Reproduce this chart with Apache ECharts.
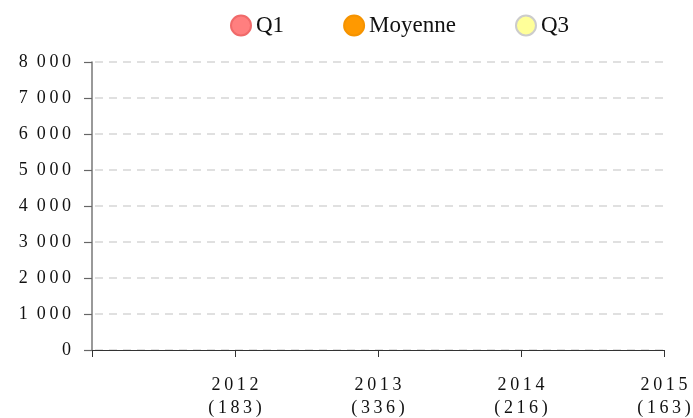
<!DOCTYPE html>
<html>
<head>
<meta charset="utf-8">
<script src="https://cdn.jsdelivr.net/npm/echarts@6/dist/echarts.min.js"></script>
<style>
  html, body { margin: 0; padding: 0; background: #fff; }
  #chart { width: 693px; height: 418px; }
</style>
</head>
<body>
<div id="chart"></div>
<script>
// années et nombre d'observations
const years = ['2012', '2013', '2014', '2015']
const counts = [183, 336, 216, 163]
// séries (vides dans la figure d'origine)
const q1Values = []
const meanValues = []
const q3Values = []
const yTicks = [0, 1000, 2000, 3000, 4000, 5000, 6000, 7000, 8000]

const FONT = "'Liberation Serif', 'DejaVu Serif', serif"

// espace fin entre les chiffres, comme sur l'original
const spaced = s => s.split('').join('\u2009')
const thousands = v => String(v).replace(/\B(?=(\d{3})+(?!\d))/g, ' ')

const chart = echarts.init(document.getElementById('chart'))

chart.setOption({
  animation: false,
  backgroundColor: '#fff',
  legend: {
    top: 9,
    left: 225,
    icon: 'circle',
    itemWidth: 20,
    itemHeight: 20,
    itemGap: 59,
    textStyle: { fontFamily: FONT, fontSize: 23, color: '#111' },
    data: ['Q1', 'Moyenne', 'Q3']
  },
  grid: { left: 92, right: 29, top: 62, bottom: 68, outerBoundsMode: 'none', containLabel: false },
  xAxis: {
    type: 'category',
    boundaryGap: false,
    data: [''].concat(years.map((y, i) => y + '\n(' + counts[i] + ')')),
    axisLine: { lineStyle: { color: '#333', width: 1.2 } },
    axisTick: { show: true, length: 7, lineStyle: { color: '#333' } },
    axisLabel: {
      interval: 0,
      margin: 24,
      fontFamily: FONT,
      fontSize: 18,
      lineHeight: 23,
      color: '#111',
      formatter: v => v.split('\n').map(spaced).join('\n')
    },
    splitLine: { show: false }
  },
  yAxis: {
    type: 'value',
    min: yTicks[0],
    max: yTicks[yTicks.length - 1],
    interval: 1000,
    axisLine: { show: true, lineStyle: { color: '#777', width: 1.5 } },
    axisTick: { show: true, length: 8, lineStyle: { color: '#666', width: 1.2 } },
    axisLabel: {
      margin: 21,
      fontFamily: FONT,
      fontSize: 18,
      color: '#111',
      formatter: v => thousands(v).split(' ').map(spaced).join('\u2002')
    },
    splitLine: { show: true, lineStyle: { color: '#d6d6d6', width: 1.5, type: [8, 6], dashOffset: -3 } }
  },
  series: [
    {
      name: 'Q1', type: 'line', data: q1Values,
      itemStyle: { color: '#ff7f7f', borderColor: '#f06a6a', borderWidth: 1 }
    },
    {
      name: 'Moyenne', type: 'line', data: meanValues,
      itemStyle: { color: '#ff9900', borderColor: '#f59300', borderWidth: 1 }
    },
    {
      name: 'Q3', type: 'line', data: q3Values,
      itemStyle: { color: '#ffff99', borderColor: '#cccccc', borderWidth: 1.5 }
    }
  ]
})
</script>
</body>
</html>
